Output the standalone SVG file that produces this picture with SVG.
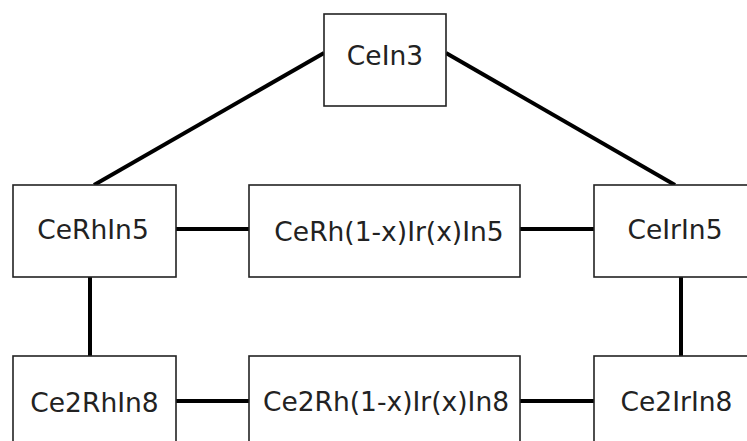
<svg xmlns="http://www.w3.org/2000/svg" width="747" height="441" viewBox="0 0 747 441">
<style>
.box{fill:#fff;stroke:#222;stroke-width:1.6}
.lbl{font-family:"DejaVu Sans",sans-serif;font-size:26.5px;fill:#222;text-anchor:middle}
.con{stroke:#000;stroke-width:4;fill:none}
</style>
<rect width="747" height="441" fill="#fff"/>
<g id="connectors">
<line class="con" x1="324" y1="53" x2="94" y2="185"/>
<line class="con" x1="446" y1="53" x2="675" y2="185"/>
<line class="con" x1="176" y1="229" x2="249" y2="229"/>
<line class="con" x1="520" y1="229" x2="594" y2="229"/>
<line class="con" x1="90" y1="277" x2="90" y2="356"/>
<line class="con" x1="681" y1="277" x2="681" y2="356"/>
<line class="con" x1="176" y1="401" x2="249" y2="401"/>
<line class="con" x1="520" y1="401" x2="594" y2="401"/>
</g>
<g id="CeIn3">
<rect class="box" x="324" y="14" width="122" height="92"/>
<text class="lbl" x="385" y="65">CeIn3</text>
</g>
<g id="CeRhIn5">
<rect class="box" x="13" y="185" width="163" height="92"/>
<text class="lbl" x="93" y="239">CeRhIn5</text>
</g>
<g id="CeRhIrIn5">
<rect class="box" x="249" y="185" width="271" height="92"/>
<text class="lbl" x="389" y="241">CeRh(1-x)Ir(x)In5</text>
</g>
<g id="CeIrIn5">
<rect class="box" x="594" y="185" width="163" height="92"/>
<text class="lbl" x="675" y="239">CeIrIn5</text>
</g>
<g id="Ce2RhIn8">
<rect class="box" x="13" y="356" width="163" height="92"/>
<text class="lbl" x="94.5" y="412">Ce2RhIn8</text>
</g>
<g id="Ce2RhIrIn8">
<rect class="box" x="249" y="356" width="271" height="92"/>
<text class="lbl" x="386" y="411">Ce2Rh(1-x)Ir(x)In8</text>
</g>
<g id="Ce2IrIn8">
<rect class="box" x="594" y="356" width="163" height="92"/>
<text class="lbl" x="676.5" y="411">Ce2IrIn8</text>
</g>
</svg>
